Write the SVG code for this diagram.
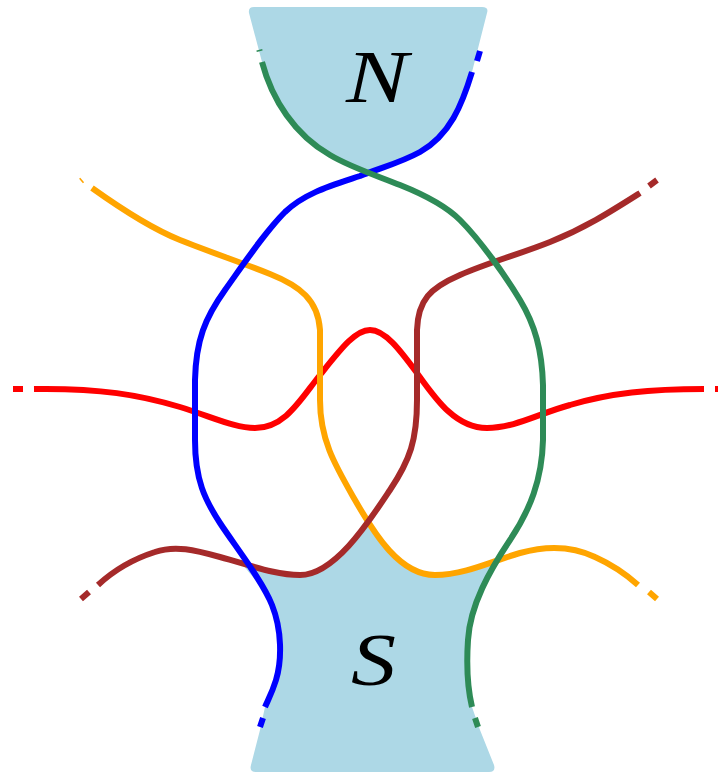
<svg xmlns="http://www.w3.org/2000/svg" width="718" height="775" viewBox="0 0 718 775">
<style>
.fill{fill:#add8e6;stroke:none}
.ln{fill:none;stroke-width:6;stroke-linecap:butt;stroke-linejoin:round}
.blue{stroke:#0000ff}
.green{stroke:#2e8b57}
.red{stroke:#ff0000}
.orange{stroke:#ffa500}
.brown{stroke:#a52a2a}
.lbl{font-family:"Liberation Serif","DejaVu Serif",serif;font-style:italic;font-size:73px;fill:#000}
</style>
<rect width="718" height="775" fill="#fff"/>
<g id="N">
<path class="fill" d="M472,72 C462,105 450,135 420,152 C400,163 385,167 370,172 C360,171 350,167 330,155 C295,135 272,100 262,62 L249,13 Q248,7 254,7 L482,7 Q489,7 487,13 Z"/>
<text class="lbl" x="346" y="102" textLength="62" lengthAdjust="spacingAndGlyphs">N</text>
</g>
<g id="S">
<path class="fill" d="M243,565 C260,570 280,575 300,575 C335,575 355,540 368,522 C380,540 400,575 435,575 C460,575 480,565 498,560 C482,590 469,615 468,640 C466,670 468,690 472,707 L480,730 L494,765 Q496,772 489,772 L256,772 Q249,772 251,765 L260,730 L265,707 C268,700 272,693 276,680 C282,660 282,630 272,605 C265,590 255,580 243,565 Z"/>
<text class="lbl" x="351" y="685" textLength="45" lengthAdjust="spacingAndGlyphs" font-size="76">S</text>
</g>
<g id="connectors">
<g id="red">
<path class="ln red" d="M34,389 C100,388 140,395 180,407 C215,418 235,428 255,428 C285,428 300,400 320,375 C340,350 355,330 370,330 C385,330 400,350 417,373 C435,398 455,428 487,428 C515,428 540,413 570,405 C610,393 650,389 704,389"/>
<path class="ln red" d="M13,389 L23,389 M715,389 L718,389"/>
</g>
<g id="orange">
<path class="ln orange" d="M92,188 C120,208 150,228 180,240 C210,252 240,262 270,274 C300,286 318,300 320,330 L320,400 C320,440 335,465 355,500 C375,535 400,575 435,575 C465,575 495,560 520,553 C545,546 570,545 595,557 C615,566 628,576 638,585"/>
<path class="ln orange" d="M81,181 L82.2,180 M649,592 L657,599"/>
</g>
<g id="brown">
<path class="ln brown" d="M640,193 C610,212 585,228 550,242 C520,254 490,262 460,275 C430,288 418,300 417,330 L417,400 C417,440 410,460 390,490 C370,520 335,575 300,575 C275,575 250,565 220,557 C195,550 175,545 155,552 C130,560 112,572 98,585"/>
<path class="ln brown" d="M649,186 L657,180 M89,592 L81,599"/>
</g>
<g id="blue">
<path class="ln blue" d="M472,72 C462,105 450,135 420,152 C400,163 380,168 360,176 C330,186 305,193 285,212 C265,232 245,262 225,290 C205,318 196,340 195,380 L195,440 C195,480 205,500 220,523 C235,546 262,580 272,605 C282,630 282,660 276,680 C272,693 268,700 265,707"/>
<path class="ln blue" d="M477,61 L480,51 M263,718 L260,727"/>
</g>
<g id="green">
<path class="ln green" d="M262,62 C272,100 295,135 330,155 C350,167 375,175 400,185 C425,195 445,205 460,220 C480,240 505,275 520,300 C535,325 542,350 543,385 L543,440 C542,480 530,510 510,540 C490,570 470,605 468,640 C466,670 468,690 472,707"/>
<path class="ln green" d="M259.3,49.8 L259.7,51.3 M475,718 L478,727"/>
</g>
</g>
</svg>
